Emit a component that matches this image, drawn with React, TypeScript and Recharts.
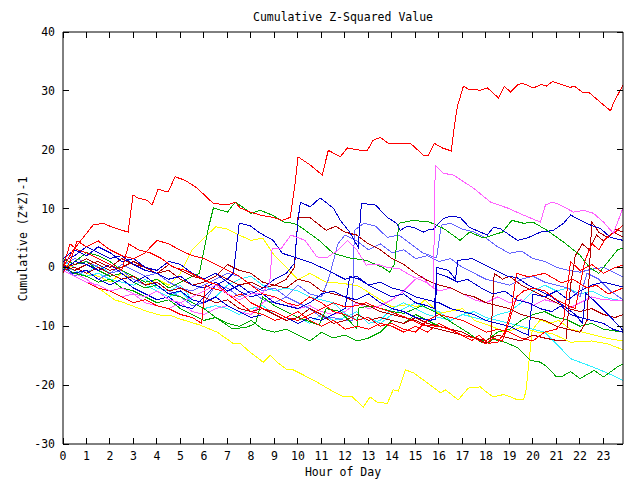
import React from 'react';
import { LineChart, Line, XAxis, YAxis } from 'recharts';

type Pair = [number, number];

// hour ticks and value ticks
const hourTicks = [0, 1, 2, 3, 4, 5, 6, 7, 8, 9, 10, 11, 12, 13, 14, 15, 16, 17, 18, 19, 20, 21, 22, 23];
const valueTicks = [-30, -20, -10, 0, 10, 20, 30, 40];

// series: [hour, cumulative (z*z)-1]
const red1: Pair[] = [[0,0],[0.43,2.9],[1.28,7.2],[1.7,7.5],[2.13,6.8],[2.77,6],[2.98,12.3],[3.19,11.8],[3.58,11.4],[3.79,10.6],[4.05,13.3],[4.47,12.8],[4.77,15.4],[5.2,14.8],[5.7,13.5],[6.39,10.9],[6.98,10.6],[7.33,11.1],[7.54,10.1],[7.96,9.4],[8.39,8.9],[8.94,8.5],[9.33,8.0],[9.67,8.5],[9.88,14.3],[10.0,18.8],[10.52,17.4],[11.03,15.7],[11.29,19.9],[11.8,18.8],[12.1,20.3],[12.65,19.9],[12.95,19.9],[13.2,21.6],[13.5,22.1],[13.84,21.1],[14.78,21.1],[15.33,19.1],[15.55,19.1],[15.8,21.1],[16.14,20.3],[16.52,19.8],[16.65,23.9],[16.78,27.3],[17.04,30.8],[17.25,30.3],[17.76,30.1],[18.06,30.5],[18.31,29.6],[18.53,28.8],[18.78,30.8],[19.04,29.8],[19.34,31.0],[19.55,31.3],[20.02,30.5],[20.36,31.1],[20.57,30.8],[20.83,31.6],[21.59,30.6],[21.76,30.8],[22.1,29.8],[22.36,29.8],[23.3,26.6],[23.42,27.9],[23.83,31.0]];
const red2: Pair[] = [[0,0],[0.3,4],[0.6,3],[1,2.5],[1.5,1.5],[2,0.5],[2.5,-0.5],[2.8,4],[3.2,3],[3.7,2.5],[4.2,1.5],[4.7,0],[5.2,-0.5],[5.7,-1.5],[6.2,-2.5],[6.6,-3],[7,-4.5],[7.5,-6],[8,-7.5],[8.5,-8],[9,-9],[9.5,-8.5],[10,-7.5],[10.5,-9],[11,-10],[11.5,-9],[12,-10.5],[12.5,-10],[13,-10.5],[13.5,-9.5],[14,-10],[14.5,-11],[15,-10],[15.5,-11],[16,-9.5],[16.5,-10.5],[17,-11.5],[17.5,-12],[18,-13],[18.3,-12],[18.7,-12.5],[19,-9],[19.3,-5],[19.6,-4],[20,-3.5],[20.5,-4],[21,-5.5],[21.5,-6.5],[21.8,-7],[22,-3],[22.2,1],[22.5,4.1],[22.8,3],[23.1,5],[23.5,6],[23.83,7.2]];
const red3: Pair[] = [[0,-0.5],[0.5,-1.5],[1,-2.5],[1.5,-3.5],[2,-4],[2.5,-5],[3,-6],[3.5,-5.5],[4,-6.5],[4.5,-7],[5,-8],[5.5,-8.5],[5.9,-9.5],[6.05,-3],[6.3,-3.5],[6.8,-4],[7.2,-5],[7.6,-4.5],[8,-6],[8.5,-7],[9,-7.5],[9.5,-8.5],[10,-9],[10.5,-8],[11,-7],[11.5,-6],[12,-6.7],[12.5,-6.5],[12.9,-6],[13.3,-6.7],[13.9,-7.5],[14.6,-8.5],[15.3,-9.8],[16,-10],[16.5,-10.6],[17.4,-12.4],[17.7,-11.5],[18.1,-12.9],[18.5,-12.7],[18.8,-11],[19.1,-6.7],[19.3,-1],[19.8,-1.6],[20.5,-1],[21.2,-2.6],[21.7,-2],[22.3,-3.5],[22.7,-3],[23.2,-4.5],[23.83,-3.5]];
const red4: Pair[] = [[0,-1],[0.3,1],[0.6,4.5],[1,3.5],[1.5,4.5],[2,3],[2.5,2],[3,1.5],[3.5,2.5],[4,4.6],[4.5,4],[5,2.9],[5.5,2],[6,1.5],[6.5,0.5],[7,-0.5],[7.5,-1.5],[8,-3],[8.5,-4.5],[9,-5],[9.5,-6],[10,-6.5],[10.5,-5],[11,-6],[11.5,-7.5],[12,-8],[12.5,-9],[13,-8.5],[13.5,-10],[14,-9.5],[14.5,-10.5],[15,-11],[15.5,-9],[16,-8],[16.5,-8.5],[17,-9],[17.5,-10],[18,-11],[18.5,-10.5],[19,-11],[19.5,-12],[20,-12.5],[20.5,-11],[21,-10.5],[21.3,-9],[21.6,1],[22,-0.5],[22.5,0.5],[23,-1],[23.5,0],[23.83,0.4]];
const darkRed1: Pair[] = [[0,-0.5],[0.5,0],[1,-1],[1.5,0],[2,-1],[2.5,-2],[3,-1.5],[3.5,-3],[4,-2.5],[4.5,-4],[5,-3.5],[5.5,-4.5],[6,-5],[6.5,-6],[7,-5.5],[7.5,-7],[8,-7.5],[8.5,-7],[9,-8],[9.5,-9],[10,-8.5],[10.5,-7],[11,-8],[11.5,-9.5],[12,-9],[12.5,-8],[13,-9],[13.5,-8.5],[14,-9],[14.5,-9.5],[15,-8.5],[15.5,-9.5],[16,-10],[16.5,-10.5],[17,-11],[17.5,-12],[18,-12.4],[18.5,-11.5],[19,-12],[19.5,-12.5],[20,-11.5],[20.5,-12],[21,-12.4],[21.4,-12.5],[21.6,-3],[21.8,2],[22.1,4],[22.4,3],[22.7,5.5],[23,4.5],[23.4,6],[23.83,5.2]];
const darkRed2: Pair[] = [[0,0.5],[0.5,-0.5],[1,0.5],[1.5,1],[2,0],[2.5,1.5],[3,0.5],[3.5,0],[4,-1],[4.5,-0.5],[5,-2],[5.5,-3],[6,-2.5],[6.5,-1.5],[7,0.5],[7.5,-0.5],[8,-1],[8.5,-2.5],[9,-3],[9.5,-3.5],[10,-2],[10.5,-2.5],[11,-4],[11.5,-4.5],[12,-5],[12.5,-6],[13,-6.5],[13.5,-7.5],[14,-8],[14.5,-8.5],[15,-9],[15.5,-10],[16,-10.5],[16.5,-11],[17,-11.5],[17.5,-12],[18,-12.8],[18.2,-12.5],[18.35,-1],[18.7,-2],[19,-1.5],[19.5,-3],[20,-4],[20.5,-5],[21,-6],[21.5,-7],[22,-7.5],[22.5,-7],[23,-8],[23.5,-8.5],[23.83,-8]];
const darkRed3: Pair[] = [[0,0],[0.5,0.5],[1,1.5],[1.5,0.5],[2,-0.5],[2.5,0],[3,1],[3.5,0],[4,-1],[4.5,0.5],[5,-0.5],[5.5,-1.5],[6,-2],[6.5,-1],[7,-2],[7.5,-3],[8,-2.5],[8.5,-3.5],[9,-3],[9.5,-2],[9.85,0],[10.0,8.5],[10.5,8.5],[11.2,6.3],[11.6,7],[12,6],[12.5,5.5],[13,4],[13.5,3],[14,1.5],[14.5,0.5],[15,-1],[15.5,-2.2],[16,-3],[16.5,-3.5],[17,-4.5],[17.5,-5],[18,-6],[18.5,-6.5],[19,-7],[19.5,-8],[20,-8.5],[20.5,-9],[21,-10],[21.5,-10.5],[22,-11],[22.3,-9],[22.5,7.7],[22.8,6],[23.2,5],[23.5,6.5],[23.83,6]];
const green1: Pair[] = [[0,1.5],[0.5,0.5],[1,1],[1.5,-0.5],[2,-1.5],[2.5,-1],[3,-2.5],[3.5,-3.5],[4,-3],[4.5,-4.5],[5,-5],[5.5,-6],[6,-7],[6.5,-8.5],[7.2,-10.4],[7.8,-10.2],[8.2,-9.5],[8.5,-5],[9,-6.5],[9.5,-7.5],[10,-8.5],[10.9,-9.8],[11.2,-7],[11.8,-7.5],[12.5,-10.4],[12.6,-6.8],[13.2,-6.6],[14,-7.5],[14.5,-7.8],[15.3,-6.5],[15.8,-7.5],[16.4,-9],[17.2,-11],[17.8,-12.7],[18.1,-12.8],[18.3,-12.2],[18.8,-12.7],[19.34,-13.6],[19.9,-15.8],[20.32,-16.1],[20.6,-16.9],[21,-18.6],[21.2,-18.6],[21.6,-17.7],[22,-18.9],[22.6,-17.5],[23,-18.6],[23.7,-16.6],[23.83,-16.5]];
const green2: Pair[] = [[0,-0.5],[0.5,1],[1,2.5],[1.5,2],[2,1],[2.5,-0.5],[3,-1.5],[3.5,-2.5],[4,-2],[4.5,-3.5],[5,-2.5],[5.5,-1.5],[5.8,-1],[6.2,6.9],[6.4,10.1],[7,9.4],[7.33,11.1],[7.7,10.1],[8,9.2],[8.4,9.7],[8.9,8.9],[9.4,7.7],[9.8,7.5],[10.1,6.9],[10.9,4.6],[11.5,2.4],[12.2,1.6],[12.9,1.2],[13.6,0],[13.9,-0.8],[14.1,0.5],[14.3,7.5],[14.9,8.0],[15.6,7.7],[16.2,6.6],[16.9,4.6],[17.3,6.0],[17.9,5.0],[18.3,5.5],[18.7,6.0],[19.1,8.0],[19.6,7.5],[20.0,7.7],[20.6,6.3],[21.3,4.3],[22.0,2.1],[22.4,0],[22.8,-1],[23.2,1],[23.6,3],[23.83,3.3]];
const green3: Pair[] = [[0,0],[0.5,-1],[1,-1.5],[1.5,-2.5],[2,-2],[2.5,-3.5],[3,-4],[3.5,-5],[4,-6],[4.5,-5.5],[5,-7],[5.5,-8],[6,-9],[6.5,-8.5],[7,-9.5],[7.5,-10],[8,-9],[8.5,-10.5],[9,-11],[9.5,-10.5],[10,-11.5],[10.5,-12.5],[11,-11],[11.5,-12],[12,-11.5],[12.5,-12.5],[13,-12],[13.5,-11],[14,-9],[14.5,-9.5],[15,-8],[15.5,-9],[16,-10],[16.5,-10.5],[17,-11],[17.5,-12],[18,-12.5],[18.5,-11],[19,-10.5],[19.5,-9],[20,-8],[20.5,-7.5],[21,-8.5],[21.5,-9],[22,-10],[22.5,-9.5],[23,-10.5],[23.83,-11]];
const blue1: Pair[] = [[0,1],[0.5,2],[1,3.5],[1.5,2.5],[2,1.5],[2.5,2],[3,0.5],[3.5,-0.5],[4,-1],[4.5,-2],[5,-1.5],[5.5,-3],[6,-3.5],[6.5,-2.5],[7,-4],[7.5,-3],[8,-4.5],[8.5,-3.5],[9,-2],[9.5,-1],[9.85,0.7],[10.0,8],[10.1,11.1],[10.52,10.3],[10.94,11.8],[11.5,10.1],[11.8,8],[12.2,6],[12.56,3.4],[12.7,10.9],[13.3,10.6],[13.8,8.5],[14.2,7.5],[14.35,6.3],[14.65,7],[14.91,6.8],[15.33,6.0],[15.6,6.5],[15.76,6.5],[16.18,8.3],[16.5,8.7],[16.9,8.5],[17.3,6.8],[17.76,6],[18.06,5.5],[18.31,6.8],[18.6,6.6],[18.9,5.8],[19.34,4.6],[19.76,5],[20.32,6],[20.87,6.3],[21.3,7.5],[21.6,8.9],[22.03,8],[22.45,7.2],[22.87,6.6],[23.3,5.1],[23.83,4.6]];
const blue2: Pair[] = [[0,0.5],[0.4,-1],[1,-0.5],[1.5,-2],[2,-3],[2.5,-2],[3,-3.5],[3.5,-4.5],[4,-5.5],[4.5,-5],[5,-6.5],[5.5,-7],[6,-5],[6.5,-3],[7,-2],[7.25,-1],[7.5,7.5],[7.96,7.1],[8.4,5.8],[8.94,4.6],[9.33,2.4],[9.8,1.8],[10.5,0.9],[11,0],[11.5,-1],[12,-2],[12.5,-1.5],[13,-3],[13.5,-4],[14,-5],[14.5,-4.5],[15,-6],[15.5,-6.5],[15.8,-7],[15.9,-1],[16.3,-1.5],[16.8,-2.5],[17.2,-2],[17.8,-3.5],[18.3,-4.5],[18.8,-4],[19.3,-5.5],[19.8,-6],[20.3,-7],[20.8,-7.5],[21.2,-6.5],[21.6,-8],[22,-8.5],[22.5,-9],[23,-9.5],[23.4,-10.5],[23.83,-11]];
const blue3: Pair[] = [[0,1.5],[0.5,3],[1,2],[1.5,3.5],[2,2.5],[2.5,1],[3,1.5],[3.5,0],[4,-0.5],[4.5,1],[5,0.5],[5.5,-1],[6,-2],[6.5,-1],[7,-2.5],[7.5,-4],[8,-5],[8.5,-4.5],[9,-6],[9.5,-6.5],[10,-7],[10.5,-6],[11,-4.5],[11.5,-4],[12,-5],[12.5,-5.5],[13,-4.5],[13.5,-6],[14,-7],[14.5,-7.5],[15,-8.5],[15.6,-9],[15.85,-8.8],[15.9,0],[16.4,-0.5],[16.7,-2],[16.8,1.2],[17.4,1.5],[17.9,0.5],[18.4,-0.5],[18.9,-1.5],[19.3,-1.7],[19.8,-3],[20.3,-4],[20.8,-5],[21.3,-6.5],[21.8,-8],[22.1,-9.5],[22.25,-4.4],[22.7,-6],[23.2,-8],[23.83,-10.7]];
const blue4: Pair[] = [[0,-0.5],[0.5,1],[1,0.5],[1.5,-0.5],[2,0.5],[2.5,-1],[3,-2.5],[3.5,-1.5],[4,-3],[4.5,-4.5],[5,-4],[5.5,-5.5],[6,-6],[6.5,-5],[7,-6.5],[7.5,-7.5],[8,-8.5],[8.5,-8],[9,-9],[9.5,-8.5],[10,-9.5],[10.5,-8.5],[11,-9],[11.5,-8],[12,-7],[12.2,-1.5],[12.6,-2],[13,-3],[13.5,-2.5],[14,-3.5],[14.5,-4],[15,-5],[15.5,-5.5],[16,-6],[16.5,-7],[17,-7.5],[17.5,-8],[18,-9],[18.5,-9.5],[19,-10],[19.5,-11],[19.8,-11.5],[20,-4.5],[20.5,-5],[21,-4],[21.5,-5.5],[22,-4],[22.5,-3],[23,-2.5],[23.5,-3],[23.83,-3.3]];
const slate1: Pair[] = [[0,0],[0.5,-1.5],[1,-0.5],[1.5,-2],[2,-1],[2.5,-0.5],[3,-2],[3.5,-3],[4,-2.5],[4.5,-4],[5,-5],[5.5,-6.5],[6,-6],[6.5,-3],[7,-3.5],[7.5,-5],[8,-4],[8.5,-5.5],[9,-6],[9.5,-5],[10,-3],[10.5,-4.5],[11,-5],[11.3,-2],[11.7,4],[12,5.5],[12.5,4.5],[13,3],[13.5,4],[14,2.5],[14.5,3],[15,1.5],[15.5,2],[16,1],[16.5,1.5],[17,0],[17.5,-1],[18,-2],[18.5,-2.5],[19,-3],[19.5,-2],[20,-1.5],[20.5,-2.5],[21,-3],[21.5,-3.5],[22,-5],[22.3,-1],[22.8,-2],[23.3,-4],[23.83,-5.5]];
const slate2: Pair[] = [[0,0.5],[0.5,1.5],[1,1],[1.5,0],[2,-1],[2.5,0.5],[3,-0.5],[3.5,-1.5],[4,-1],[4.5,-2.5],[5,-3.5],[5.5,-4],[6,-3],[6.5,-2],[7,-1],[7.5,-1.5],[8,-3],[8.5,-4],[9,-3.5],[9.5,-5],[10,-6],[10.5,-7],[11,-8.5],[11.5,-8.5],[12,-9],[12.3,-9],[12.4,6.3],[12.8,7.5],[13.3,7],[13.8,5.1],[14.3,5.5],[14.8,4],[15.3,2.5],[15.9,1.6],[16.1,7.2],[16.5,7.5],[17,6.5],[17.5,6],[18,5],[18.5,3.5],[19,2.4],[19.5,2.8],[20,1.5],[20.5,1],[21,0],[21.5,-0.5],[22,-0.8],[22.5,-0.3],[23,0],[23.5,-1],[23.83,-1.6]];
const magenta1: Pair[] = [[0,-0.5],[0.5,-1.5],[1,-2.5],[1.5,-3],[2,-4],[2.5,-3.5],[3,-4.5],[3.5,-5],[4,-4],[4.5,-5.5],[5,-6],[5.5,-5],[6,-4],[6.5,-3],[7,-4.5],[7.5,-5.5],[8,-4.5],[8.5,-4.3],[8.8,-2.6],[8.9,3.3],[9.3,3.3],[9.7,5.5],[10.3,4.6],[10.8,1.8],[11.2,1.6],[11.7,2.9],[12.1,4.6],[12.5,3],[12.9,0.4],[13.4,0.5],[13.8,0],[14.3,-0.2],[14.9,-1.6],[15.5,-2.6],[15.76,-3.5],[15.84,17.4],[16.18,16],[16.61,15.7],[17.46,13.5],[18.19,11.1],[18.91,10.1],[19.59,8.9],[20.32,7.7],[20.53,10.6],[20.83,11.1],[21.17,10.6],[21.72,9.4],[22.15,9.7],[22.57,9.2],[23,7.7],[23.42,5.8],[23.83,10.1]];
const magenta2: Pair[] = [[0,0],[0.5,-1],[1,-2],[1.5,-3.5],[2,-4],[2.5,-5],[3,-4.5],[3.5,-6],[4,-6.5],[4.5,-7],[5,-6],[5.5,-7.5],[6,-8],[6.5,-7],[7,-6.5],[7.5,-7.5],[8,-8],[8.5,-6],[9,-5],[9.5,-6],[10,-7],[10.5,-6.5],[11,-7.5],[11.5,-8],[12,-7.5],[12.5,-6],[13,-7],[13.5,-6.5],[14,-5.5],[14.5,-4],[15,-2],[15.3,-1.5],[15.6,-3],[16,-4],[16.5,-3.5],[17,-4.5],[17.5,-5.5],[18,-6],[18.5,-5],[19,-6],[19.5,-5.5],[20,-6.5],[20.5,-5.5],[21,-6],[21.5,-7],[22,-6],[22.5,-5],[23,-5.5],[23.83,-5.6]];
const cyan1: Pair[] = [[0,0],[0.5,-0.5],[1,-1.5],[1.5,-1],[2,-2],[2.5,-2.5],[3,-3],[3.5,-2],[4,-3.5],[4.5,-4],[5,-3],[5.5,-5.5],[6,-6],[6.5,-5],[7,-3],[7.5,-2],[8,-1.5],[8.5,-3],[9,-4],[9.5,-3.5],[10,-4],[10.5,-5],[11,-5.5],[11.5,-6],[12,-7.8],[12.5,-8.9],[13,-8.5],[13.5,-9.5],[14,-8],[14.5,-7],[15,-6],[15.5,-7],[16,-7.5],[16.5,-9],[17,-8],[17.5,-7.5],[18,-8.5],[18.5,-9],[19,-9.5],[19.5,-10],[20,-10.5],[20.5,-11],[21,-13],[21.6,-15.5],[22,-16.1],[22.6,-17],[23.2,-18],[23.83,-19.2]];
const cyan2: Pair[] = [[0,1],[0.5,0],[1,-1],[1.5,0.5],[2,-1],[2.5,-2],[3,-1.5],[3.5,-3],[4,-4],[4.5,-5],[5,-4],[5.5,-6],[6,-7],[6.5,-6.5],[7,-7],[7.5,-8],[8,-7],[8.5,-6.5],[9,-8],[9.5,-9],[10,-8.5],[10.5,-9.5],[11,-8],[11.5,-9],[12,-8.5],[12.5,-7.5],[13,-9.5],[13.5,-9],[14,-7],[14.5,-6],[15,-7],[15.5,-8],[16,-8.5],[16.5,-9],[17,-8],[17.5,-8.5],[18,-9],[18.5,-8],[19,-7.5],[19.5,-6],[20,-4],[20.5,-3],[21,-4],[21.5,-3.5],[22,-4.5],[22.5,-4],[23,-5],[23.5,-5.5],[23.83,-5.6]];
const yellow1: Pair[] = [[0,0],[0.5,-1],[1,-2],[1.5,-3.5],[2.2,-5.5],[2.6,-6],[3.19,-6.9],[3.6,-7.5],[4.13,-8.1],[4.56,-8.1],[4.86,-8.6],[5.83,-9.8],[6.56,-11],[7.24,-12.9],[7.54,-12.9],[7.96,-14.4],[8.52,-16.1],[8.82,-14.9],[9.11,-16.1],[9.54,-17.4],[9.8,-17.4],[10.39,-18.6],[10.86,-19.6],[11.37,-20.8],[11.93,-22],[12.31,-22],[12.78,-23.7],[13.07,-22],[13.37,-22.9],[13.8,-23.1],[14.05,-20.8],[14.27,-21],[14.57,-17.4],[14.91,-17.9],[15.5,-19.6],[16.06,-21.3],[16.27,-20.8],[16.82,-22.5],[17.25,-20.5],[17.76,-20.3],[18.06,-21.3],[18.31,-22],[18.74,-21.6],[19.04,-22],[19.34,-22.5],[19.6,-22.5],[19.7,-21],[19.97,-10.6],[20.32,-8.9],[20.7,-9.5],[21.1,-9],[21.6,-10.5],[22.1,-11],[22.6,-11.5],[23.1,-12],[23.83,-12.5]];
const yellow2: Pair[] = [[0,0.5],[0.5,0],[1,-1],[1.5,-1.5],[2,-2.5],[2.5,-1],[3,-2],[3.5,-3],[4,-2],[4.5,-3],[5,-1],[5.5,3],[6,5],[6.5,6.9],[7,6.5],[7.5,5.5],[8,4.6],[8.5,5],[9,2],[9.5,0],[10,-2.1],[10.5,-1],[11.2,-2.5],[11.9,-2.7],[12.6,-3.2],[13.3,-5],[14,-6.7],[14.7,-6.3],[15.1,-6.7],[15.4,-5.5],[16,-7.8],[17,-7],[17.5,-9],[18.3,-10.1],[18.8,-11],[19.5,-10.2],[20.2,-11],[20.8,-11.2],[21.6,-12.7],[22.5,-12.5],[23.2,-13],[23.83,-14]];

const series: { name: string; color: string; pts: Pair[] }[] = [
  { name: 'y1', color: '#ffff00', pts: yellow1 },
  { name: 'y2', color: '#ffff00', pts: yellow2 },
  { name: 'c1', color: '#30f0ff', pts: cyan1 },
  { name: 'c2', color: '#30f0ff', pts: cyan2 },
  { name: 'm2', color: '#ff60ff', pts: magenta2 },
  { name: 's1', color: '#6464ff', pts: slate1 },
  { name: 's2', color: '#6464ff', pts: slate2 },
  { name: 'g1', color: '#00a800', pts: green1 },
  { name: 'g2', color: '#00a800', pts: green2 },
  { name: 'g3', color: '#00a800', pts: green3 },
  { name: 'd1', color: '#b00000', pts: darkRed1 },
  { name: 'd2', color: '#b00000', pts: darkRed2 },
  { name: 'd3', color: '#b00000', pts: darkRed3 },
  { name: 'b1', color: '#0000cc', pts: blue1 },
  { name: 'b2', color: '#0000cc', pts: blue2 },
  { name: 'b3', color: '#0000cc', pts: blue3 },
  { name: 'b4', color: '#0000cc', pts: blue4 },
  { name: 'r2', color: '#ff0000', pts: red2 },
  { name: 'r3', color: '#ff0000', pts: red3 },
  { name: 'r4', color: '#ff0000', pts: red4 },
  { name: 'm1', color: '#ff60ff', pts: magenta1 },
  { name: 'r1', color: '#ff0000', pts: red1 },
];

const font = { fontFamily: '"DejaVu Sans Mono", monospace', fontSize: 11.5, fill: '#000' };
const TICK = 6;

const BottomTick = (p: any) => (
  <g>
    <line x1={p.x} y1={p.y} x2={p.x} y2={p.y - TICK} stroke="#000" shapeRendering="crispEdges" />
    <text x={p.x} y={p.y + 16} textAnchor="middle" style={font}>{p.payload.value}</text>
  </g>
);
const TopTick = (p: any) => <line x1={p.x} y1={p.y} x2={p.x} y2={p.y + TICK} stroke="#000" shapeRendering="crispEdges" />;
const LeftTick = (p: any) => (
  <g>
    <line x1={p.x} y1={p.y} x2={p.x + TICK} y2={p.y} stroke="#000" shapeRendering="crispEdges" />
    <text x={p.x - 8} y={p.y + 4} textAnchor="end" style={font}>{p.payload.value}</text>
  </g>
);
const RightTick = (p: any) => <line x1={p.x} y1={p.y} x2={p.x - TICK} y2={p.y} stroke="#000" shapeRendering="crispEdges" />;

export default function App() {
  return (
    <div style={{ position: 'absolute', left: 0, top: 0, width: 640, height: 480, background: '#fff' }}>
      <LineChart width={640} height={480} margin={{ top: 0, right: 0, bottom: 0, left: 0 }}>
        <XAxis xAxisId={0} dataKey="h" type="number" domain={[0, 23.83]} ticks={hourTicks} allowDataOverflow
          height={36} tickSize={0} tickMargin={0} tick={BottomTick} tickLine={false} axisLine={{ stroke: '#000' }} interval={0} />
        <XAxis xAxisId="top" orientation="top" dataKey="h" type="number" domain={[0, 23.83]} ticks={hourTicks} allowDataOverflow
          height={32} tickSize={0} tickMargin={0} tick={TopTick} tickLine={false} axisLine={{ stroke: '#000' }} interval={0} />
        <YAxis yAxisId={0} type="number" domain={[-30, 40]} ticks={valueTicks} allowDataOverflow
          width={63} tickSize={0} tickMargin={0} tick={LeftTick} tickLine={false} axisLine={{ stroke: '#000' }} interval={0} />
        <YAxis yAxisId="r" orientation="right" type="number" domain={[-30, 40]} ticks={valueTicks} allowDataOverflow
          width={17} tickSize={0} tickMargin={0} tick={RightTick} tickLine={false} axisLine={{ stroke: '#000' }} interval={0} />
        {series.map((s) => (
          <Line key={s.name} data={s.pts.map(([h, v]) => ({ h, v }))} dataKey="v" type="linear"
            stroke={s.color} strokeWidth={1} dot={false} activeDot={false} isAnimationActive={false}
            shapeRendering="crispEdges" />
        ))}
      </LineChart>
      <svg width={640} height={480} style={{ position: 'absolute', left: 0, top: 0, pointerEvents: 'none' }}>
        <text x={343} y={21} textAnchor="middle" style={font}>Cumulative Z-Squared Value</text>
        <text x={343} y={476} textAnchor="middle" style={font}>Hour of Day</text>
        <text x={0} y={0} textAnchor="middle" transform="translate(27,239) rotate(-90)" style={font}>Cumulative (Z*Z)-1</text>
      </svg>
    </div>
  );
}
